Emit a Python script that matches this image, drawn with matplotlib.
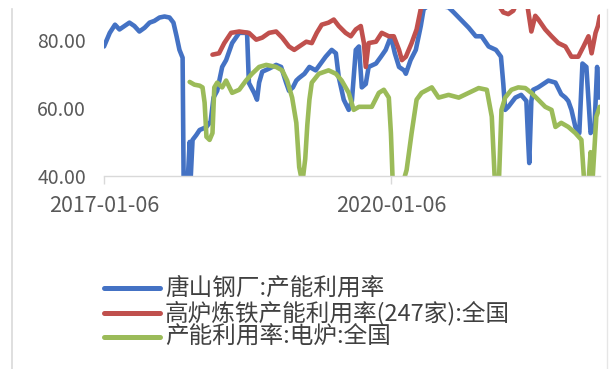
import matplotlib
matplotlib.use("Agg")
import matplotlib.pyplot as plt
import matplotlib.dates as mdates
from matplotlib.lines import Line2D
import pandas as pd

plt.rcParams['font.family'] = ['Noto Sans CJK SC', 'DejaVu Sans']

# ---------------- data ----------------
series_names = ["唐山钢厂:产能利用率", "高炉炼铁产能利用率(247家):全国", "产能利用率:电炉:全国"]
series_colors = ["#4472C4", "#C0504D", "#9BBB59"]

tangshan_dates = [
    "2017-01-06", "2017-01-17", "2017-01-28", "2017-02-17", "2017-03-06", "2017-03-25",
    "2017-04-13", "2017-05-02", "2017-05-21", "2017-06-10", "2017-06-29", "2017-07-17",
    "2017-08-06", "2017-08-25", "2017-09-13", "2017-09-28", "2017-10-10", "2017-10-21",
    "2017-11-02", "2017-11-06", "2017-11-21", "2017-11-29", "2017-12-02", "2017-12-10",
    "2017-12-24", "2018-01-06", "2018-01-21", "2018-02-01", "2018-02-17", "2018-02-28",
    "2018-03-14", "2018-04-02", "2018-04-17", "2018-05-10", "2018-06-06", "2018-07-06",
    "2018-07-13", "2018-08-02", "2018-08-13", "2018-08-21", "2018-09-02", "2018-09-28",
    "2018-10-25", "2018-11-13", "2018-12-02", "2018-12-13", "2018-12-28", "2019-01-10",
    "2019-01-21", "2019-02-10", "2019-03-01", "2019-03-25", "2019-04-13", "2019-05-02",
    "2019-05-25", "2019-06-10", "2019-06-21", "2019-07-10", "2019-07-29", "2019-08-10",
    "2019-08-25", "2019-09-06", "2019-09-17", "2019-10-02", "2019-10-13", "2019-11-10",
    "2019-11-29", "2019-12-17", "2020-01-06", "2020-01-21", "2020-02-06", "2020-02-25",
    "2020-03-03", "2020-03-21", "2020-04-10", "2020-04-29", "2020-05-10", "2020-05-29",
    "2020-07-06", "2020-08-13", "2020-09-02", "2020-09-21", "2020-10-10", "2020-10-29",
    "2020-11-25", "2020-12-17", "2021-01-13", "2021-02-10", "2021-03-01", "2021-03-10",
    "2021-03-17", "2021-03-29", "2021-04-25", "2021-05-17", "2021-06-06", "2021-06-13",
    "2021-06-17", "2021-06-25", "2021-07-02", "2021-07-21", "2021-08-29", "2021-09-25",
    "2021-10-17", "2021-11-02", "2021-11-13", "2021-11-25", "2021-12-10", "2021-12-25",
    "2022-01-06", "2022-01-21", "2022-02-06", "2022-02-21", "2022-03-03", "2022-03-10",
]
tangshan_values = [
    78.0, 80.0, 82.0, 84.4, 83.0, 84.0,
    85.0, 84.0, 82.4, 83.5, 85.0, 85.5,
    86.5, 86.8, 86.5, 85.0, 81.0, 77.0,
    74.7, 38.0, 38.0, 50.0, 38.0, 50.6,
    52.0, 53.5, 54.0, 54.4, 56.0, 63.0,
    65.0, 72.0, 74.0, 79.0, 82.0, 82.0,
    67.3, 64.4, 62.4, 67.4, 70.6, 71.5,
    72.6, 72.0, 67.4, 65.0, 66.0, 68.0,
    68.8, 70.0, 72.0, 71.0, 73.0, 75.0,
    77.0, 76.0, 69.0, 62.4, 59.4, 62.0,
    77.0, 78.0, 66.0, 67.0, 72.0, 73.0,
    75.0, 77.0, 81.0, 76.0, 72.0, 71.0,
    70.0, 74.0, 77.0, 84.0, 89.0, 90.0,
    90.0, 89.5, 88.0, 86.5, 85.0, 83.5,
    81.0, 81.0, 78.0, 77.0, 75.0, 67.0,
    59.4, 60.3, 63.0, 63.8, 62.0, 50.0,
    43.8, 62.0, 65.3, 66.0, 68.0, 67.4,
    64.0, 63.0, 62.0, 59.4, 54.4, 52.6,
    73.0, 72.0, 52.6, 54.4, 72.0, 63.0,
]

blast_dates = [
    "2018-02-24", "2018-03-21", "2018-04-10", "2018-05-06", "2018-06-06", "2018-07-13",
    "2018-08-10", "2018-09-02", "2018-09-28", "2018-10-25", "2018-11-17", "2018-12-13",
    "2019-01-02", "2019-01-21", "2019-02-17", "2019-03-10", "2019-03-29", "2019-04-17",
    "2019-05-13", "2019-06-02", "2019-06-21", "2019-07-17", "2019-08-06", "2019-08-25",
    "2019-09-13", "2019-09-25", "2019-10-02", "2019-10-13", "2019-11-10", "2019-12-02",
    "2019-12-29", "2020-01-17", "2020-02-06", "2020-02-17", "2020-03-03", "2020-03-25",
    "2020-04-13", "2020-04-29", "2020-05-13", "2020-07-06", "2020-09-21", "2020-12-06",
    "2021-02-21", "2021-03-10", "2021-03-29", "2021-04-17", "2021-05-02", "2021-06-06",
    "2021-06-25", "2021-07-10", "2021-07-21", "2021-08-17", "2021-09-10", "2021-10-06",
    "2021-11-02", "2021-11-25", "2021-12-21", "2022-01-10", "2022-01-29", "2022-02-10",
    "2022-02-25", "2022-03-06", "2022-03-13",
]
blast_values = [
    75.6, 76.0, 79.0, 82.0, 82.4, 82.0,
    80.0, 80.6, 82.0, 82.4, 80.6, 78.0,
    77.0, 78.0, 79.4, 79.0, 82.0, 84.4,
    85.0, 85.9, 84.0, 82.0, 81.0, 83.0,
    84.0, 79.0, 72.0, 79.0, 79.4, 82.0,
    81.0, 81.0, 77.0, 74.0, 75.0, 79.0,
    83.0, 89.0, 91.0, 92.0, 92.0, 91.5,
    90.0, 88.0, 87.5, 88.5, 91.0, 92.0,
    82.4, 87.0, 86.0, 83.0, 81.0, 79.0,
    78.0, 75.0, 75.0, 78.0, 81.0, 76.0,
    82.0, 84.0, 86.8,
]

eaf_dates = [
    "2017-11-29", "2017-12-17", "2018-01-06", "2018-01-17", "2018-01-25", "2018-02-01",
    "2018-02-13", "2018-02-24", "2018-03-03", "2018-03-14", "2018-04-02", "2018-04-17",
    "2018-05-10", "2018-06-06", "2018-07-02", "2018-07-25", "2018-08-21", "2018-09-17",
    "2018-10-25", "2018-11-17", "2018-12-06", "2018-12-25", "2019-01-10", "2019-01-21",
    "2019-02-02", "2019-02-13", "2019-02-21", "2019-03-01", "2019-03-10", "2019-04-06",
    "2019-05-13", "2019-06-10", "2019-07-02", "2019-07-29", "2019-08-17", "2019-09-06",
    "2019-10-02", "2019-10-25", "2019-11-21", "2019-12-10", "2019-12-29", "2020-01-06",
    "2020-01-13", "2020-02-21", "2020-03-06", "2020-03-25", "2020-04-13", "2020-05-02",
    "2020-06-10", "2020-07-06", "2020-08-13", "2020-09-21", "2020-10-29", "2020-12-06",
    "2021-01-06", "2021-01-25", "2021-02-06", "2021-02-21", "2021-03-03", "2021-03-17",
    "2021-04-10", "2021-05-06", "2021-06-02", "2021-06-25", "2021-07-21", "2021-08-17",
    "2021-09-10", "2021-09-25", "2021-10-17", "2021-11-13", "2021-12-10", "2022-01-02",
    "2022-01-13", "2022-01-29", "2022-02-06", "2022-02-13", "2022-02-28", "2022-03-13",
]
eaf_values = [
    67.6, 66.8, 66.5, 66.0, 61.5, 51.5,
    50.6, 52.6, 66.0, 67.4, 66.0, 68.0,
    64.4, 65.3, 68.0, 70.0, 72.0, 72.6,
    72.0, 71.0, 68.0, 63.0, 55.6, 42.6,
    38.0, 45.0, 55.0, 62.4, 67.4, 70.0,
    71.0, 70.0, 68.0, 64.4, 59.4, 60.3,
    60.3, 60.3, 64.4, 65.3, 63.0, 52.6,
    38.0, 38.0, 41.8, 52.6, 62.4, 64.4,
    66.0, 63.0, 63.8, 63.0, 64.4, 65.8,
    65.3, 57.4, 38.0, 38.0, 59.4, 63.0,
    65.3, 66.0, 65.8, 64.4, 62.4, 60.3,
    59.4, 54.4, 55.6, 54.4, 52.6, 50.6,
    38.0, 38.0, 47.0, 38.0, 57.4, 60.3,
]

x_tick_labels = ["2017-01-06", "2020-01-06"]
y_ticks = [40, 60, 80]

# ---------------- figure ----------------
W, H = 610, 369
fig = plt.figure(figsize=(W / 100, H / 100), dpi=100)
ax = fig.add_axes([104 / W, 1 - 176 / H, (600 - 104) / W, (176 - 9) / H])

all_dates = [tangshan_dates, blast_dates, eaf_dates]
all_values = [tangshan_values, blast_values, eaf_values]
for d, v, c in zip(all_dates, all_values, series_colors):
    ax.plot(pd.to_datetime(d), v, color=c, lw=3.3,
            solid_joinstyle='round', solid_capstyle='round')

ax.set_ylim(40, 89)
ax.set_xlim(pd.Timestamp("2017-01-06"), pd.Timestamp("2022-03-14"))
ax.set_yticks(y_ticks)
ax.set_yticklabels([f"{t:.2f}" for t in y_ticks])
ax.set_xticks(pd.to_datetime(x_tick_labels))
ax.set_xticklabels(x_tick_labels)

for s in ["top", "right", "left"]:
    ax.spines[s].set_visible(False)
ax.spines["bottom"].set_color("#d9d9d9")
ax.spines["bottom"].set_linewidth(1.0)
ax.tick_params(axis='y', length=0, pad=13, labelsize=14, labelcolor="#595959")
ax.tick_params(axis='x', length=6, width=1.0, color="#d9d9d9", pad=8,
               labelsize=15.5, labelcolor="#595959")

# outer frame lines of the chart area
fig.add_artist(Line2D([12 / W, 12 / W], [0, 1 - 9 / H], transform=fig.transFigure,
                      color="#d9d9d9", lw=1.2))
fig.add_artist(Line2D([607 / W, 607 / W], [0, 1 - 9 / H], transform=fig.transFigure,
                      color="#e6e6e6", lw=1.0))

# legend (drawn manually for tight row spacing)
legend_rows_y = [288, 313, 337]
for name, c, yy in zip(series_names, series_colors, legend_rows_y):
    fy = 1 - yy / H
    fig.add_artist(Line2D([104 / W, 160 / W], [fy, fy], transform=fig.transFigure,
                          color=c, lw=3.6, solid_capstyle='round'))
    fig.text(165 / W, fy, name, fontsize=17, color="#404040", va="center", ha="left")

fig.savefig("out.png", dpi=100, facecolor="white")
